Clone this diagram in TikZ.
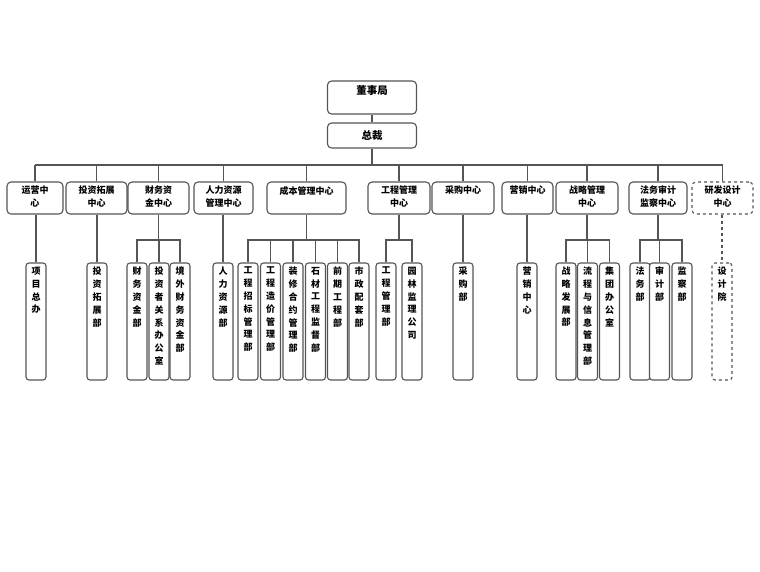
\documentclass[tikz,border=0pt]{standalone}
\usepackage{fontspec}
\setmainfont{Noto Sans CJK SC}
\usepackage{tikz}
\usetikzlibrary{positioning}
\definecolor{linegray}{RGB}{85,85,85}

\begin{document}
\begin{tikzpicture}[x=1pt, y=-1pt,
    every node/.style={font=\fontsize{9}{12.8}\selectfont\bfseries},
    conn/.style={draw=linegray, line width=1.1pt},
    topbox/.style={draw=linegray, line width=1.1pt, rounded corners=4pt,
                   fill=white, minimum width=89pt, inner sep=0pt,
                   font=\fontsize{10.5}{13}\selectfont\bfseries},
    centre/.style={draw=linegray, line width=1.1pt, rounded corners=4pt,
                   fill=white, minimum height=32pt, inner sep=0pt},
    dept/.style={draw=linegray, line width=1.1pt, rounded corners=3pt,
                 fill=white, minimum width=20pt, minimum height=117pt, inner sep=0pt},
    txt/.style={anchor=north, align=center, inner sep=4.5pt},
]
    \useasboundingbox (0,0) rectangle (760,571);

    % top
    \node[topbox, minimum height=33pt,
          label={[txt, font=\fontsize{10.5}{13}\selectfont\bfseries]north:董事局}] (dsj) at (372,97.5) {};
    \node[topbox, minimum height=25pt] (zc) at (372,135.5) {总裁};

    % centres
    \node[centre, minimum width=56pt, label={[txt]north:运营中\\心}] (yyzx) at (35,198) {};
    \node[centre, minimum width=61pt, label={[txt]north:投资拓展\\中心}] (tztz) at (96.5,198) {};
    \node[centre, minimum width=61pt, label={[txt]north:财务资\\金中心}] (cwzj) at (158.5,198) {};
    \node[centre, minimum width=59pt, label={[txt]north:人力资源\\管理中心}] (rlzy) at (223.5,198) {};
    \node[centre, minimum width=79pt, label={[txt]north:成本管理中心}] (cbgl) at (306.5,198) {};
    \node[centre, minimum width=62pt, label={[txt]north:工程管理\\中心}] (gcgl) at (399,198) {};
    \node[centre, minimum width=62pt, label={[txt]north:采购中心}] (cgzx) at (463,198) {};
    \node[centre, minimum width=51pt, label={[txt]north:营销中心}] (yxzx) at (527.5,198) {};
    \node[centre, minimum width=62pt, label={[txt]north:战略管理\\中心}] (zlgl) at (587,198) {};
    \node[centre, minimum width=58pt, label={[txt]north:法务审计\\监察中心}] (fwsj) at (658,198) {};
    \node[centre, dashed, minimum width=61pt, label={[txt]north:研发设计\\中心}] (yfsj) at (722.5,198) {};

    % departments
    \node[dept, label={[txt]north:项\\目\\总\\办}] (xmzb) at (36,321.5) {};
    \node[dept, label={[txt]north:投\\资\\拓\\展\\部}] (tztzb) at (97,321.5) {};
    \node[dept, label={[txt]north:财\\务\\资\\金\\部}] (cwzjb) at (137,321.5) {};
    \node[dept, label={[txt]north:投\\资\\者\\关\\系\\办\\公\\室}] (tzzgx) at (159,321.5) {};
    \node[dept, label={[txt]north:境\\外\\财\\务\\资\\金\\部}] (jwcw) at (180,321.5) {};
    \node[dept, label={[txt]north:人\\力\\资\\源\\部}] (rlzyb) at (223,321.5) {};
    \node[dept, label={[txt]north:工\\程\\招\\标\\管\\理\\部}] (gczb) at (248,321.5) {};
    \node[dept, label={[txt]north:工\\程\\造\\价\\管\\理\\部}] (gczj) at (270.5,321.5) {};
    \node[dept, label={[txt]north:装\\修\\合\\约\\管\\理\\部}] (zxhy) at (293,321.5) {};
    \node[dept, label={[txt]north:石\\材\\工\\程\\监\\督\\部}] (scgc) at (315.5,321.5) {};
    \node[dept, label={[txt]north:前\\期\\工\\程\\部}] (qqgc) at (337.5,321.5) {};
    \node[dept, label={[txt]north:市\\政\\配\\套\\部}] (szpt) at (359,321.5) {};
    \node[dept, label={[txt]north:工\\程\\管\\理\\部}] (gcglb) at (386,321.5) {};
    \node[dept, label={[txt]north:园\\林\\监\\理\\公\\司}] (yljl) at (412,321.5) {};
    \node[dept, label={[txt]north:采\\购\\部}] (cgb) at (463,321.5) {};
    \node[dept, label={[txt]north:营\\销\\中\\心}] (yxzxb) at (527,321.5) {};
    \node[dept, label={[txt]north:战\\略\\发\\展\\部}] (zlfz) at (566,321.5) {};
    \node[dept, label={[txt]north:流\\程\\与\\信\\息\\管\\理\\部}] (lcxx) at (587.5,321.5) {};
    \node[dept, label={[txt]north:集\\团\\办\\公\\室}] (jtbgs) at (609.5,321.5) {};
    \node[dept, label={[txt]north:法\\务\\部}] (fwb) at (640,321.5) {};
    \node[dept, label={[txt]north:审\\计\\部}] (sjb) at (659.5,321.5) {};
    \node[dept, label={[txt]north:监\\察\\部}] (jcb) at (682,321.5) {};
    \node[dept, dashed, label={[txt]north:设\\计\\院}] (sjy) at (722,321.5) {};

    % connectors
    \coordinate (bus) at (372,165);
    \coordinate (sub) at (0,240);
    \draw[conn] (dsj) -- (zc);
    \draw[conn] (zc) -- (bus);
    \draw[conn] (yyzx.north |- bus) -- (yfsj.north |- bus);
    \foreach \c in {yyzx,tztz,cwzj,rlzy,cbgl,gcgl,cgzx,yxzx,zlgl,fwsj,yfsj}
        \draw[conn] (\c.north |- bus) -- (\c.north);
    \foreach \p/\c in {yyzx/xmzb,tztz/tztzb,rlzy/rlzyb,cgzx/cgb,yxzx/yxzxb}
        \draw[conn] (\c.north |- \p.south) -- (\c.north);
    \draw[conn, dashed] (sjy.north |- yfsj.south) -- (sjy.north);
    \foreach \p/\a/\b in {cwzj/cwzjb/jwcw,cbgl/gczb/szpt,gcgl/gcglb/yljl,zlgl/zlfz/jtbgs,fwsj/fwb/jcb} {
        \draw[conn] (\p.south) -- (\p.south |- sub);
        \draw[conn] (\a.north) |- (\b.north |- sub) -- (\b.north);
    }
    \foreach \c in {tzzgx,gczj,zxhy,scgc,qqgc,lcxx,sjb}
        \draw[conn] (\c.north |- sub) -- (\c.north);
\end{tikzpicture}
\end{document}
